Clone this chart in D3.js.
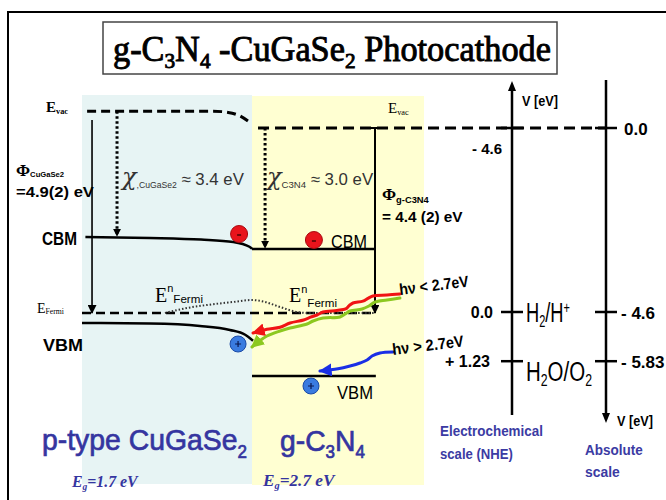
<!DOCTYPE html>
<html>
<head>
<meta charset="utf-8">
<script src="https://cdn.jsdelivr.net/npm/d3@7"></script>
<style>
  html, body { margin: 0; padding: 0; background: #fff; }
  svg { display: block; }
</style>
</head>
<body>
<script>
// ---- Energy data (eV, absolute vacuum scale) --------------------------------
// Position u across the junction: 0..1 = CuGaSe2 layer, 1..2 = g-C3N4 layer.
const absTicks      = [0.0, -4.6, -5.83];
const absTickLabels = ["0.0", "- 4.6", "- 5.83"];
const nheTicks      = [-4.6, 0.0, 1.23];
const nheTickLabels = ["- 4.6", "0.0", "+ 1.23"];
const redoxNhe      = [0.0, 1.23];            // H2/H+ and H2O/O2 vs NHE
const nheZeroAbs    = -4.6;                   // NHE zero on the absolute scale
const bandGaps      = [1.7, 2.7];             // CuGaSe2, g-C3N4
const affinities    = [3.4, 3.0];             // electron affinities
const workFunctions = ["4.9(2)", "4.4 (2)"];
const photonLabels  = ["2.7eV", "2.7eV"];

const vacLeft   = [[0.03, 0.42], [0.77, 0.42], [0.86, 0.39], [0.93, 0.30], [0.99, 0.13]];
const vacRight  = [1.035, 0.0];
const cbmLeft   = [[0.02, -2.725], [0.40, -2.75], [0.70, -2.79], [0.89, -2.85], [0.985, -2.97], [1.0, -3.02]];
const cbmRight  = [[1.0, -3.025], [1.715, -3.025]];
const vbmLeft   = [[0.0, -4.875], [0.40, -4.89], [0.694, -4.95], [0.87, -5.05], [0.96, -5.17], [1.006, -5.32]];
const vbmRight  = [[1.0, -6.2], [1.72, -6.2]];
const fermiLevel = -4.625;
const fermiSpan  = [0.0, 1.715];
const quasiFermi = [[0.488, -4.625], [0.618, -4.5], [0.735, -4.425], [0.888, -4.35], [1.0, -4.3],
                    [1.076, -4.35], [1.163, -4.475], [1.262, -4.6], [1.32, -4.625], [1.715, -4.625]];
const electrons = [[0.924, -2.65], [1.36, -2.8]];
const holes     = [[0.918, -5.4], [1.343, -6.45]];

// photon-driven carrier paths (sub-gap red/green, super-gap blue)
const photonRed = [[1.860, -4.15], [1.785, -4.175], [1.703, -4.2], [1.674, -4.26], [1.645, -4.33],
                   [1.587, -4.375], [1.565, -4.44], [1.545, -4.52], [1.494, -4.56], [1.413, -4.6],
                   [1.378, -4.675], [1.340, -4.73], [1.300, -4.8], [1.221, -4.875], [1.163, -4.98],
                   [1.087, -5.03], [1.035, -5.09], [1.006, -5.125]];
const photonGreen = [[1.860, -4.25], [1.785, -4.3], [1.715, -4.35], [1.680, -4.45], [1.640, -4.525],
                     [1.570, -4.575], [1.541, -4.65], [1.512, -4.725], [1.413, -4.75], [1.355, -4.825],
                     [1.320, -4.9], [1.221, -5.0], [1.163, -5.075], [1.087, -5.2], [1.035, -5.35],
                     [1.0, -5.475]];
const photonBlue = [[1.820, -5.6], [1.744, -5.625], [1.698, -5.7], [1.669, -5.8], [1.628, -5.875],
                    [1.570, -5.95], [1.500, -6.02], [1.395, -6.075]];

// ---- Scales -----------------------------------------------------------------
const W = 666, H = 500;
const xPos = d3.scaleLinear().domain([0, 1, 2]).range([82, 252, 424]);
const yE   = d3.scaleLinear().domain([0, -4.6]).range([128, 312]);
const nheToAbs = v => nheZeroAbs - v;
const nheX = 512, absX = 606;

const svg = d3.select("body").append("svg").attr("width", W).attr("height", H);
const defs = svg.append("defs");

function marker(id, color, size) {
  defs.append("marker")
    .attr("id", id).attr("viewBox", "0 0 10 10").attr("refX", 9).attr("refY", 5)
    .attr("markerUnits", "userSpaceOnUse")
    .attr("markerWidth", size).attr("markerHeight", size).attr("orient", "auto")
    .append("path").attr("d", "M0,0L10,5L0,10z").attr("fill", color);
}
marker("arBlack", "#000", 9);
marker("arBlackS", "#000", 8);
marker("arRed", "#f01414", 13);
marker("arGreen", "#8cc820", 13);
marker("arBlue", "#1a2fe6", 13);

// ---- Text helper: rich text with sub/superscripts, optional width fit -------
const SANS = "'Liberation Sans Narrow', 'Liberation Sans', Arial, sans-serif";
const SERIF = "'Liberation Serif', 'Times New Roman', serif";
function rich(x, y, parts, o) {
  const t = svg.append("text").attr("x", x).attr("y", y)
    .attr("font-family", o.family || SANS).attr("font-size", o.size)
    .attr("font-weight", o.weight || "normal").attr("font-style", o.style || "normal")
    .attr("fill", o.fill || "#000").attr("text-anchor", o.anchor || "start");
  if (o.stroke) t.attr("stroke", o.fill || "#000").attr("stroke-width", o.stroke);
  let prev = 0;
  parts.forEach(p => {
    const [txt, rel, off, attrs] = typeof p === "string" ? [p, 1, 0, null] : p;
    const s = t.append("tspan").attr("dy", off - prev).attr("font-size", o.size * rel).text(txt);
    if (attrs) Object.entries(attrs).forEach(([k, v]) => s.attr(k, v));
    prev = off;
  });
  let tf = "";
  if (o.width) {
    const w = t.node().getBBox().width;
    const k = o.width / w;
    tf = `translate(${x},${y}) scale(${k},1) translate(${-x},${-y})`;
  }
  if (o.rotate) tf = `rotate(${o.rotate},${x},${y}) ` + tf;
  if (tf) t.attr("transform", tf);
  return t;
}

// ---- Frame and title --------------------------------------------------------
svg.append("path").attr("d", "M8,500V12H666").attr("fill", "none")
  .attr("stroke", "#000").attr("stroke-width", 2);
svg.append("rect").attr("x", 103).attr("y", 22).attr("width", 454).attr("height", 52)
  .attr("fill", "#fff").attr("stroke", "#444").attr("stroke-width", 1.5);
rich(113, 61, ["g-C", ["3", 0.62, 7], ["N", 1, 0], ["4", 0.62, 7], [" -CuGaSe", 1, 0], ["2", 0.62, 7], [" Photocathode", 1, 0]],
  { family: SERIF, size: 35, width: 438, stroke: 0.9 });

// ---- Material regions -------------------------------------------------------
svg.append("rect").attr("x", xPos(0)).attr("y", 95).attr("width", xPos(1) - xPos(0)).attr("height", 389)
  .attr("fill", "#e7f4f4");
svg.append("rect").attr("x", xPos(1)).attr("y", 96).attr("width", xPos(2) - xPos(1)).attr("height", 389)
  .attr("fill", "#ffffd2");

// ---- Band lines -------------------------------------------------------------
const bandLine = d3.line().x(d => xPos(d[0])).y(d => yE(d[1])).curve(d3.curveMonotoneX);

svg.append("path").attr("d", bandLine(vacLeft)).attr("fill", "none")
  .attr("stroke", "#000").attr("stroke-width", 3).attr("stroke-dasharray", "9,5");
svg.append("line").attr("x1", xPos(vacRight[0])).attr("x2", absX)
  .attr("y1", yE(vacRight[1])).attr("y2", yE(vacRight[1]))
  .attr("stroke", "#000").attr("stroke-width", 3).attr("stroke-dasharray", "11,6");

svg.append("line").attr("x1", xPos(fermiSpan[0])).attr("x2", xPos(fermiSpan[1]))
  .attr("y1", yE(fermiLevel)).attr("y2", yE(fermiLevel))
  .attr("stroke", "#000").attr("stroke-width", 2.5).attr("stroke-dasharray", "9,5");
svg.append("path").attr("d", bandLine(quasiFermi)).attr("fill", "none")
  .attr("stroke", "#333").attr("stroke-width", 2).attr("stroke-dasharray", "1.5,2");

[cbmLeft, cbmRight, vbmLeft, vbmRight].forEach(b => {
  svg.append("path").attr("d", bandLine(b)).attr("fill", "none")
    .attr("stroke", "#000").attr("stroke-width", 2.5);
});

// ---- Energy arrows (work functions, electron affinities) --------------------
svg.append("line").attr("x1", xPos(0.059)).attr("x2", xPos(0.059))
  .attr("y1", yE(0.2)).attr("y2", yE(fermiLevel))
  .attr("stroke", "#000").attr("stroke-width", 1.6).attr("marker-end", "url(#arBlack)");
svg.append("line").attr("x1", xPos(0.206)).attr("x2", xPos(0.206))
  .attr("y1", yE(vacLeft[0][1])).attr("y2", yE(cbmLeft[0][1]) - 1)
  .attr("stroke", "#000").attr("stroke-width", 3).attr("stroke-dasharray", "2.5,2.5")
  .attr("marker-end", "url(#arBlackS)");
svg.append("line").attr("x1", xPos(1.076)).attr("x2", xPos(1.076))
  .attr("y1", yE(0)).attr("y2", yE(cbmRight[0][1]) - 1)
  .attr("stroke", "#000").attr("stroke-width", 3).attr("stroke-dasharray", "2.5,2.5")
  .attr("marker-end", "url(#arBlackS)");
svg.append("line").attr("x1", xPos(1.715)).attr("x2", xPos(1.715))
  .attr("y1", yE(0)).attr("y2", yE(fermiLevel))
  .attr("stroke", "#000").attr("stroke-width", 2).attr("marker-end", "url(#arBlack)");
svg.append("line").attr("x1", xPos(1.715) - 4).attr("x2", xPos(1.715) + 4)
  .attr("y1", yE(0)).attr("y2", yE(0)).attr("stroke", "#000").attr("stroke-width", 2);

// ---- Photon-driven transfer paths -------------------------------------------
const wave = d3.line().x(d => xPos(d[0])).y(d => yE(d[1])).curve(d3.curveCatmullRom);
[[photonRed, "#f01414", "arRed"], [photonGreen, "#8cc820", "arGreen"], [photonBlue, "#1a2fe6", "arBlue"]]
  .forEach(([pts, c, m]) => {
    svg.append("path").attr("d", wave(pts)).attr("fill", "none")
      .attr("stroke", c).attr("stroke-width", 3).attr("stroke-linecap", "round")
      .attr("marker-end", `url(#${m})`);
  });

// ---- Charge carriers --------------------------------------------------------
electrons.forEach(([u, e]) => {
  const g = svg.append("g").attr("transform", `translate(${xPos(u)},${yE(e)})`);
  g.append("circle").attr("r", 8.5).attr("fill", "#e8141c").attr("stroke", "#a80a10").attr("stroke-width", 1);
  g.append("line").attr("x1", -2).attr("x2", 2).attr("y1", 1).attr("y2", 1).attr("stroke", "#300").attr("stroke-width", 1.3);
});
holes.forEach(([u, e]) => {
  const g = svg.append("g").attr("transform", `translate(${xPos(u)},${yE(e)})`);
  g.append("circle").attr("r", 8).attr("fill", "#3a7be0").attr("stroke", "#1b4aa5").attr("stroke-width", 1);
  g.append("path").attr("d", "M-3,0H3M0,-3V3").attr("stroke", "#0a1850").attr("stroke-width", 1.2);
});

// ---- Band diagram labels ----------------------------------------------------
const CHI = { "font-family": "'DejaVu Serif', serif", "font-style": "italic" };
const SANSPART = { "font-family": "'Liberation Sans', Arial, sans-serif" };
rich(46, 112, ["E", ["vac", 0.55, 2]], { family: SERIF, size: 15, weight: "bold" });
rich(388, 113, ["E", ["vac", 0.55, 2]], { family: SERIF, size: 15 });
rich(16, 176, ["Φ", ["CuGaSe2", 0.45, 1, SANSPART]], { family: SERIF, size: 17, weight: "bold" });
rich(16, 197, ["=" + workFunctions[0] + " eV"], { size: 15, weight: "bold", width: 78 });
rich(122, 185, [["χ", 1, 0, CHI], [",CuGaSe2", 0.36, 3, SANSPART], [" ≈ " + affinities[0].toFixed(1) + " eV", 0.7, 0, SANSPART]],
  { family: SERIF, size: 24, fill: "#333" });
rich(267, 185, [["χ", 1, 0, CHI], ["C3N4", 0.4, 3, SANSPART], [" ≈ " + affinities[1].toFixed(1) + " eV", 0.7, 0, SANSPART]],
  { family: SERIF, size: 24, fill: "#333" });
rich(382, 200, ["Φ", ["g-C3N4", 0.55, 3, SANSPART]], { family: SERIF, size: 17, weight: "bold" });
rich(382, 222, ["= " + workFunctions[1] + " eV"], { size: 14.5, weight: "bold", width: 81 });

rich(42, 245, ["CBM"], { size: 18, weight: "bold", width: 35 });
rich(331, 248, ["CBM"], { size: 18, width: 36 });
rich(43, 351, ["VBM"], { size: 17, weight: "bold", width: 40 });
rich(337, 399, ["VBM"], { size: 18, width: 36 });

rich(37, 313, ["E", ["Fermi", 0.55, 1]], { family: SERIF, size: 14 });
rich(155, 302, ["E", ["n", 0.55, -10, SANSPART], ["Fermi", 0.58, 1, SANSPART]], { family: SERIF, size: 20 });
rich(289, 302, ["E", ["n", 0.55, -9, SANSPART], ["Fermi", 0.58, 5, SANSPART]], { family: SERIF, size: 20 });

rich(400, 295, ["hν < " + photonLabels[0]], { size: 16, weight: "bold", width: 70, rotate: -7 });
rich(393, 355, ["hν > " + photonLabels[1]], { size: 16, weight: "bold", width: 72, rotate: -7 });

// ---- Potential scales -------------------------------------------------------
svg.append("line").attr("x1", nheX).attr("x2", nheX).attr("y1", 90).attr("y2", 415)
  .attr("stroke", "#000").attr("stroke-width", 2.5);
svg.append("path").attr("d", `M${nheX - 4},91L${nheX},81L${nheX + 4},91z`).attr("fill", "#000");
svg.append("line").attr("x1", absX).attr("x2", absX).attr("y1", 80).attr("y2", 414)
  .attr("stroke", "#000").attr("stroke-width", 2.5);
svg.append("path").attr("d", `M${absX - 4},413L${absX},423L${absX + 4},413z`).attr("fill", "#000");

nheTicks.forEach((v, i) => {
  const y = yE(nheToAbs(v));
  svg.append("line").attr("x1", nheX - 11).attr("x2", nheX + 11).attr("y1", y).attr("y2", y)
    .attr("stroke", "#000").attr("stroke-width", 2.5);
  if (i === 0) rich(502, y + 26, [nheTickLabels[i]], { size: 15, weight: "bold", anchor: "end" });
  else rich(493 - (i === 2 ? 3 : 0), y + 6, [nheTickLabels[i]], { size: 16, weight: "bold", anchor: "end" });
});
absTicks.forEach((v, i) => {
  const y = yE(v);
  svg.append("line").attr("x1", absX - 11).attr("x2", absX + 11).attr("y1", y).attr("y2", y)
    .attr("stroke", "#000").attr("stroke-width", 2.5);
  rich(i === 0 ? 624 : 621, y + 7, [absTickLabels[i]], { size: 17, weight: "bold" });
});
rich(522, 106, ["V [eV]"], { size: 14, weight: "bold", width: 36 });
rich(617, 426, ["V [eV]"], { size: 14, weight: "bold", width: 36 });

rich(526, yE(nheToAbs(redoxNhe[0])) + 10, ["H", ["2", 0.6, 5], ["/H", 1, 0], ["+", 0.6, -9]],
  { size: 28, width: 44 });
rich(526, yE(nheToAbs(redoxNhe[1])) + 20, ["H", ["2", 0.6, 5], ["O/O", 1, 0], ["2", 0.6, 5]],
  { size: 28, width: 66 });

rich(440, 436, ["Electrochemical"], { size: 14, weight: "bold", fill: "#3b3ba3", width: 103 });
rich(440, 459, ["scale (NHE)"], { size: 14, weight: "bold", fill: "#3b3ba3", width: 73 });
rich(585, 455, ["Absolute"], { size: 14, weight: "bold", fill: "#3b3ba3", width: 58 });
rich(585, 477, ["scale"], { size: 14, weight: "bold", fill: "#3b3ba3", width: 35 });

// ---- Material names and band gaps -------------------------------------------
rich(42, 450, ["p-type CuGaSe", ["2", 0.6, 8]], { size: 30, fill: "#3535a0", width: 205, stroke: 0.7 });
rich(280, 451, ["g-C", ["3", 0.6, 7], ["N", 1, 0], ["4", 0.6, 7]], { size: 30, fill: "#3535a0", width: 85, stroke: 0.7 });
rich(72, 487, ["E", ["g", 0.6, 3], ["=" + bandGaps[0].toFixed(1) + " eV", 1, 0]],
  { family: SERIF, size: 16, style: "italic", weight: "bold", fill: "#3535a0", width: 68 });
rich(263, 486, ["E", ["g", 0.6, 3], ["=" + bandGaps[1].toFixed(1) + " eV", 1, 0]],
  { family: SERIF, size: 16, style: "italic", weight: "bold", fill: "#3535a0", width: 74 });
</script>
</body>
</html>
